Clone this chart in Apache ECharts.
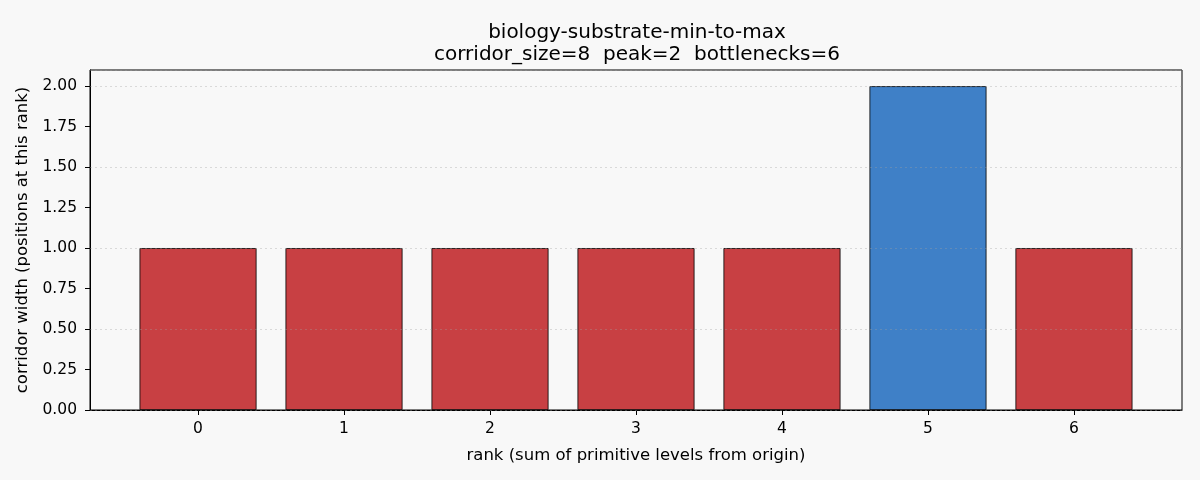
<!DOCTYPE html>
<html>
<head>
<meta charset="utf-8">
<script src="https://cdn.jsdelivr.net/npm/echarts@6/dist/echarts.min.js"></script>
<style>
html,body{margin:0;padding:0;background:#f8f8f8;}
#main{width:1200px;height:480px;}
</style>
</head>
<body>
<div id="main"></div>
<script>
var ranks=[0,1,2,3,4,5,6];
var widths=[1,1,1,1,1,2,1];
var peakRank=5;
var yTicks=[0,0.25,0.5,0.75,1,1.25,1.5,1.75,2];

var red="#c84043", blue="#3f80c7";
var font="DejaVu Sans";

var barData=[];
for(var i=0;i<ranks.length;i++){
	barData.push({
		value:[ranks[i],widths[i]],
		itemStyle:{color: ranks[i]==peakRank ? blue : red}
	});
}

var myChart=echarts.init(document.getElementById("main"));
var option={
	backgroundColor:"#f8f8f8",
	animation:false,
	title:{
		text:"biology-substrate-min-to-max\ncorridor_size=8  peak=2  bottlenecks=6",
		left:632, top:17, textAlign:"center",
		textStyle:{fontFamily:font,fontSize:20,fontWeight:"normal",color:"#000",lineHeight:22}
	},
	grid:{left:90,right:18,top:70,bottom:70,show:true,borderColor:"#000",borderWidth:1,backgroundColor:"transparent"},
	xAxis:{
		type:"value", min:-0.74, max:6.74,
		name:"rank (sum of primitive levels from origin)",
		nameLocation:"middle", nameGap:37,
		nameTextStyle:{fontFamily:font,fontSize:16.5,color:"#000"},
		axisLine:{show:true,onZero:false,lineStyle:{color:"#000"}},
		axisTick:{show:true,inside:false,length:5,customValues:ranks,lineStyle:{color:"#000",width:1}},
		axisLabel:{customValues:ranks,fontFamily:font,fontSize:15.5,color:"#000",margin:11},
		splitLine:{show:false}
	},
	yAxis:[{
		type:"value", min:0, max:2.1,
		name:"corridor width (positions at this rank)",
		nameLocation:"middle", nameGap:56,
		nameTextStyle:{fontFamily:font,fontSize:16.5,color:"#000"},
		axisLine:{show:true,onZero:false,lineStyle:{color:"#000"}},
		axisTick:{show:true,inside:false,length:5,customValues:yTicks,lineStyle:{color:"#000",width:1}},
		axisLabel:{customValues:yTicks,fontFamily:font,fontSize:15.5,color:"#000",margin:13,
			formatter:function(v){return v.toFixed(2);}},
		splitLine:{show:false}
	},{
		type:"value", min:0, max:2.1, z:5, position:"left",
		axisLine:{show:false,onZero:false}, axisTick:{show:false},
		axisLabel:{show:false},
		splitLine:{show:true,customValues:yTicks,lineStyle:{color:"rgba(160,160,160,0.35)",type:[2,3],width:1}}
	}],
	series:[{
		type:"bar",
		data:barData,
		barWidth:117,
		itemStyle:{borderColor:"#000",borderWidth:0.8},
		z:2
	}]
};
myChart.setOption(option,true);
</script>
</body>
</html>
